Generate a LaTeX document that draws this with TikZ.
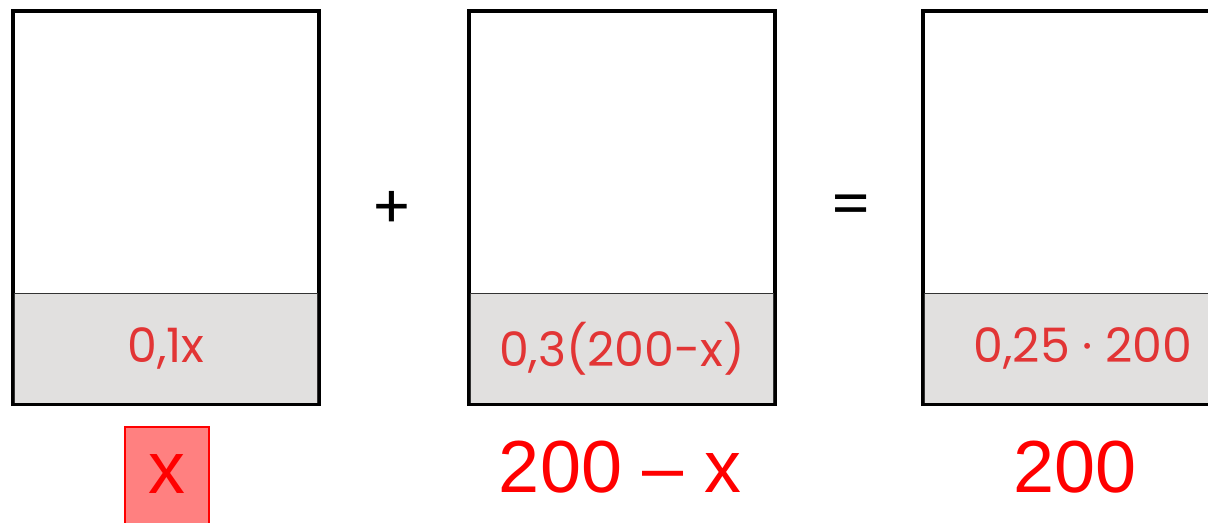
\documentclass[tikz,border=0pt]{standalone}
\usepackage{fontspec}
\setmainfont{Poppins}
\newfontfamily\amountfont{Liberation Sans}
\usetikzlibrary{positioning}
\definecolor{mixgray}{HTML}{E1E0DF}
\definecolor{mixred}{HTML}{E23535}
\definecolor{xfill}{HTML}{FF8080}
\begin{document}
\begin{tikzpicture}[
  x=0.02cm, y=-0.02cm,
  beaker/.style  = {draw=black, line width=1.7pt, minimum width=6.1cm, minimum height=7.84cm, inner sep=0pt},
  part/.style    = {fill=mixgray, draw=black!80, line width=0.8pt, minimum width=6.06cm, minimum height=2.22cm, inner sep=0pt},
  parttxt/.style = {font=\fontsize{27}{30}\selectfont, text=mixred},
  amount/.style  = {font=\amountfont\fontsize{42}{46}\selectfont, text=red},
  op/.style      = {font=\fontsize{34}{38}\selectfont}
]
\useasboundingbox (0,0) rectangle (1208,523);

% ---- three mixtures ----
\node[beaker] (b1) at (166,207.5) {};
\node[beaker] (b2) at (622,207.5) {};
\node[beaker] (b3) at (1076,207.5) {};

\node[part, anchor=south] (p1) at (b1.south) {};
\node[part, anchor=south] (p2) at (b2.south) {};
\node[part, anchor=south] (p3) at (b3.south) {};
\draw[line width=1.7pt] (b1.south west) rectangle (b1.north east);
\draw[line width=1.7pt] (b2.south west) rectangle (b2.north east);
\draw[line width=1.7pt] (b3.south west) rectangle (b3.north east);

\node[parttxt] (t1) at (p1.center) {0,1x};
\node[parttxt] (t2) at (p2.center) {0,3(200-x)};
\node[parttxt] (t3) at (1083,348) {0,25 · 200};

% ---- operators ----
\node[op] (plus) at (392,210) {+};
\node[op] (eq)   at (851,210) {=};

% ---- amounts ----
\node[draw=red, line width=1pt, fill=xfill, minimum width=1.68cm, minimum height=2.1cm,
      inner sep=0pt, anchor=north] (xbox) at (167,426.5) {};
\node[amount] (a1) at (167,474) {x};
\node[amount] (a2) at (620,467) {200 – x};
\node[amount] (a3) at (1075,467) {200};
\end{tikzpicture}
\end{document}
